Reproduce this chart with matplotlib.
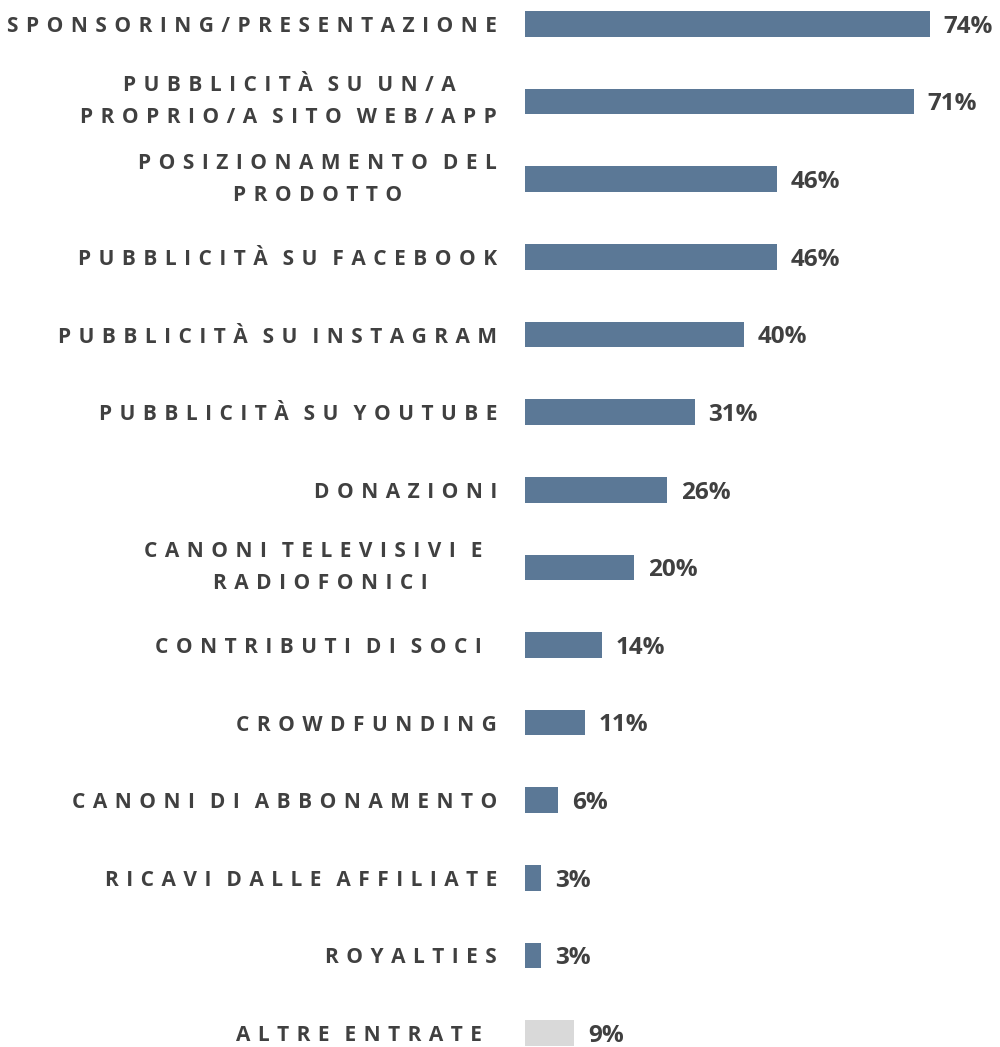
import matplotlib.pyplot as plt

plt.rcParams['font.family'] = ['Open Sans', 'DejaVu Sans']

# data
labels = [
    "SPONSORING/PRESENTAZIONE",
    "PUBBLICITÀ SU UN/A\nPROPRIO/A SITO WEB/APP",
    "POSIZIONAMENTO DEL\nPRODOTTO",
    "PUBBLICITÀ SU FACEBOOK",
    "PUBBLICITÀ SU INSTAGRAM",
    "PUBBLICITÀ SU YOUTUBE",
    "DONAZIONI",
    "CANONI TELEVISIVI E \nRADIOFONICI",
    "CONTRIBUTI DI SOCI ",
    "CROWDFUNDING",
    "CANONI DI ABBONAMENTO",
    "RICAVI DALLE AFFILIATE",
    "ROYALTIES",
    "ALTRE ENTRATE ",
]
values = [74, 71, 46, 46, 40, 31, 26, 20, 14, 11, 6, 3, 3, 9]
colors = ["#5B7896"] * 13 + ["#D9D9D9"]

TEXT = "#404040"


def spaced(s):
    # fake letter spacing: space + hair space between letters, wider gap between words
    out = []
    for line in s.split("\n"):
        words = [" \u200a".join(w) for w in line.split(" ")]
        out.append(" \u200a \u200a".join(words))
    return "\n".join(out)


fig = plt.figure(figsize=(10, 10.47), dpi=100)
ax = fig.add_axes([0.525, 0, 0.475, 1])

pos = list(range(len(values)))
ax.barh(pos, values, height=0.33, color=colors)

ax.set_xlim(0, 86.8)
ax.set_ylim(13.18, -0.31)

ax.set_yticks(pos)
ax.set_yticklabels([spaced(l) for l in labels], fontsize=15, fontweight="bold",
                   color=TEXT, linespacing=1.7)
for t in ax.get_yticklabels():
    t.set_multialignment("center")
    if "\n" in t.get_text():
        t.set_verticalalignment("center")
ax.tick_params(axis="y", length=0, pad=20)
ax.set_xticks([])

for i, v in enumerate(values):
    ax.annotate(f"{v}%", (v, i), xytext=(10, -2), textcoords="offset points",
                va="center", ha="left", fontsize=17.5, fontweight="bold", color=TEXT)

for s in ax.spines.values():
    s.set_visible(False)

fig.savefig("out.png", dpi=100)
